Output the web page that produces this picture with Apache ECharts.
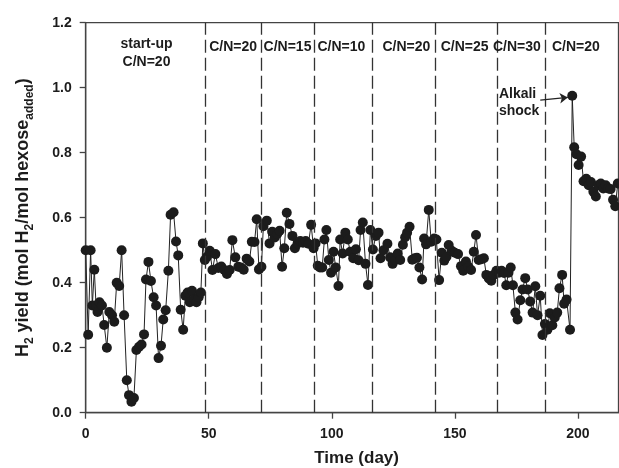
<!DOCTYPE html>
<html><head><meta charset="utf-8">
<script src="https://cdn.jsdelivr.net/npm/echarts@6/dist/echarts.min.js"></script>
<style>html,body{margin:0;padding:0;background:#fff}#c{width:619px;height:468px}</style>
</head><body><div id="c"></div>
<script>
// ---- data ----
const days = [
 0, 1, 2, 2.7, 3.5, 4.2, 4.8, 5.6, 6.6, 7.5, 8.6, 9.6, 10.7, 11.6, 12.6, 13.6, 14.6, 15.6, 16.7, 17.6, 18.6, 19.6, 20.6, 21.7, 22.7, 23.7, 24.5, 25.5, 26.5, 27.6, 28.6, 29.6, 30.6, 31.5, 32.5, 33.6, 34.5, 35.7, 36.7, 37.6, 38.6, 39.6, 40.5, 41.4, 42.3, 43.2, 44.1, 45, 45.9, 46.8, 47.6, 48.4,
 49.3, 50.4, 51.5, 52.7, 53.9, 55.1, 56.3, 57.4, 58.5, 59.6, 60.8, 62, 63.1, 64.2, 65.4, 66.5, 67.5, 68.6, 69.5, 70.4, 71.4, 72.2, 73.6, 74.7, 75.8, 76.8, 77.8, 78.8, 79.8, 80.7, 81.7, 82.8, 84, 85, 86.1, 87.2, 88.3, 89.4, 90.5, 91.6, 92.6,
 93.4, 94.3, 95.2, 96.1, 97, 97.8, 98.8, 99.7, 100.7, 101.6, 102.7, 103.4, 104.4, 105.5, 106.5, 107.5, 108.7, 109.8, 110.9, 111.7, 112.6, 113.7, 114.7, 115.7, 116.7, 117.9, 119, 119.8, 121, 122.6, 123.7, 124.7, 125.8, 126.8, 127.8, 128.9, 129.8, 130.6, 131.6, 132.7, 133.7, 134.6, 135.6, 136.7, 137.5, 138.3, 139.4, 140.4, 141.6, 142.5, 143.6,
 144.7, 145.7, 146.6, 147.5, 148.7, 150, 151.3, 152.5, 153.4, 154.5, 155.5, 156.6, 157.7, 158.6, 159.7, 160.8, 161.8, 162.8, 163.8, 164.8, 165.8, 166.9, 168, 169, 170, 170.9, 171.8, 172.7, 173.6, 174.6, 175.5, 176.6, 177.5, 178.6, 179.6, 180.6, 181.6, 182.7, 183.6, 184.7, 185.6, 186.6, 187.6, 188.6, 189.6, 190.6, 191.6, 192.5, 193.6, 194.4, 195.4, 196.8,
 197.7, 198.5, 199.4, 200.3, 201.3, 202.3, 203.4, 204.4, 205.3, 206.3, 207.3, 208.3, 209.3, 210.3, 211.3, 212.3, 213.3, 214.3, 215.2, 216.2
];
const yields = [
 0.50, 0.24, 0.50, 0.33, 0.44, 0.33, 0.31, 0.34, 0.33, 0.27, 0.20, 0.31, 0.30, 0.28, 0.40, 0.39, 0.50, 0.30, 0.10, 0.054, 0.034, 0.045, 0.193, 0.203, 0.21, 0.241, 0.41, 0.464, 0.405, 0.355, 0.33, 0.168, 0.206, 0.287, 0.315, 0.437, 0.609, 0.617, 0.527, 0.484, 0.317, 0.255, 0.36, 0.37, 0.34, 0.375, 0.35, 0.34, 0.355, 0.37, 0.521, 0.47,
 0.48, 0.498, 0.439, 0.488, 0.445, 0.45, 0.439, 0.427, 0.439, 0.531, 0.478, 0.449, 0.447, 0.44, 0.474, 0.465, 0.526, 0.525, 0.595, 0.441, 0.449, 0.574, 0.591, 0.521, 0.557, 0.539, 0.55, 0.56, 0.449, 0.506, 0.615, 0.581, 0.544, 0.506, 0.521, 0.528, 0.523, 0.528, 0.52, 0.578, 0.506,
 0.521, 0.452, 0.447, 0.447, 0.533, 0.562, 0.47, 0.431, 0.495, 0.447, 0.39, 0.533, 0.49, 0.554, 0.533, 0.495, 0.475, 0.503, 0.469, 0.562, 0.585, 0.458, 0.393, 0.562, 0.502, 0.544, 0.554, 0.475, 0.5, 0.52, 0.478, 0.458, 0.47, 0.49, 0.47, 0.517, 0.54, 0.554, 0.572, 0.471, 0.475, 0.477, 0.447, 0.41, 0.536, 0.518, 0.624, 0.526, 0.536, 0.533, 0.408,
 0.492, 0.468, 0.48, 0.516, 0.498, 0.492, 0.488, 0.451, 0.437, 0.465, 0.449, 0.439, 0.495, 0.547, 0.47, 0.472, 0.475, 0.424, 0.413, 0.406, 0.424, 0.437, 0.431, 0.437, 0.43, 0.392, 0.431, 0.447, 0.392, 0.308, 0.287, 0.346, 0.379, 0.414, 0.379, 0.342, 0.308, 0.389, 0.3, 0.36, 0.239, 0.273, 0.255, 0.306, 0.269, 0.293, 0.308, 0.383, 0.424, 0.335, 0.348, 0.255,
 0.975, 0.817, 0.795, 0.762, 0.788, 0.712, 0.72, 0.70, 0.71, 0.68, 0.665, 0.70, 0.705, 0.69, 0.70, 0.69, 0.688, 0.655, 0.635, 0.705
];
const phaseBoundaries = [48.7, 71.4, 93.0, 116.6, 142.2, 167.2, 186.9];
const phaseLabels = ['C/N=20', 'C/N=15', 'C/N=10', 'C/N=20', 'C/N=25', 'C/N=30', 'C/N=20'];
const phaseLabelDays = [59.9, 82, 103.9, 130.3, 154, 175.2, 199.2];
const startupLabel = ['start-up', 'C/N=20'];
const startupDay = 24.7;
const shockText = ['Alkali', 'shock'];
const shockArrow = [[184.7, 0.962], [195.9, 0.970]];
const xTickStep = 50;
const yTickStep = 0.2;

const FONT = '"Liberation Sans", Arial, sans-serif';
const INK = '#1c1c1c';
const AXIS = '#444';

const chart = echarts.init(document.getElementById('c'), null, {renderer: 'canvas'});
const pts = days.map((d, i) => [d, yields[i]]);

chart.setOption({
  animation: false,
  backgroundColor: '#fff',
  grid: {left: 85.7, right: 0.5, top: 22.7, bottom: 55.3, containLabel: false, outerBoundsMode: 'none',
    show: true, borderColor: AXIS, borderWidth: 1.3, backgroundColor: 'transparent'},
  xAxis: {
    type: 'value', min: 0, max: 216.5, interval: xTickStep,
    name: 'Time (day)', nameLocation: 'middle', nameGap: 37,
    nameTextStyle: {fontFamily: FONT, fontWeight: 'bold', fontSize: 17, color: INK, padding: [0, 0, 0, 9]},
    axisLine: {show: true, onZero: false, lineStyle: {color: AXIS, width: 1.3}},
    axisTick: {show: true, inside: false, length: 6, lineStyle: {color: AXIS, width: 1.3}},
    axisLabel: {margin: 14, fontFamily: FONT, fontWeight: 'bold', fontSize: 14, color: INK,
      showMaxLabel: false, formatter: v => (v % xTickStep === 0 ? String(v) : '')},
    splitLine: {show: false}
  },
  yAxis: {
    type: 'value', min: 0, max: 1.2, interval: yTickStep,
    name: '{a|H}{s|2}{a| yield (mol H}{s|2}{a|/mol hexose}{s|added}{a|)}',
    nameLocation: 'middle', nameGap: 51, nameRotate: 90,
    nameTextStyle: {
      rich: {
        a: {fontFamily: FONT, fontWeight: 'bold', fontSize: 18, color: INK, lineHeight: 21, verticalAlign: 'top'},
        s: {fontFamily: FONT, fontWeight: 'bold', fontSize: 12, color: INK, lineHeight: 12, padding: [10, 0, 0, 0], verticalAlign: 'top'}
      }
    },
    axisLine: {show: true, lineStyle: {color: AXIS, width: 1.3}},
    axisTick: {show: true, inside: false, length: 6, lineStyle: {color: AXIS, width: 1.3}},
    axisLabel: {margin: 14, fontFamily: FONT, fontWeight: 'bold', fontSize: 14, color: INK, formatter: v => v.toFixed(1)},
    splitLine: {show: false}
  },
  series: [
    {
      type: 'line', data: pts, symbol: 'circle', symbolSize: 10, showSymbol: true,
      itemStyle: {color: INK}, lineStyle: {color: '#222', width: 1}, z: 3,
      markLine: {
        silent: true, symbol: 'none', label: {show: false}, animation: false,
        lineStyle: {type: [13, 5], color: '#333', width: 1.3},
        data: phaseBoundaries.map(x => ({xAxis: x}))
      }
    },
    {
      type: 'line', data: [], silent: true,
      markLine: {
        silent: true, symbol: ['none', 'arrow'], symbolSize: 8, label: {show: false}, animation: false,
        lineStyle: {type: 'solid', color: '#222', width: 1.3},
        data: [[{coord: shockArrow[0]}, {coord: shockArrow[1]}]]
      }
    }
  ]
});

const P = (d, v) => chart.convertToPixel({gridIndex: 0}, [d, v]);
const txt = (text, pos, align) => ({
  type: 'text', x: pos[0], y: pos[1], silent: true, z: 10,
  style: {text, fontFamily: FONT, fontWeight: 'bold', fontSize: 14, fill: INK, align: align || 'center', verticalAlign: 'middle'}
});
const g = [];
g.push(txt(startupLabel[0], P(startupDay, 1.134)));
g.push(txt(startupLabel[1], P(startupDay, 1.080)));
phaseLabels.forEach((t, i) => g.push(txt(t, P(phaseLabelDays[i], 1.126))));
g.push(txt(shockText[0], P(167.9, 0.980), 'left'));
g.push(txt(shockText[1], P(167.9, 0.929), 'left'));
chart.setOption({graphic: g});
</script></body></html>
